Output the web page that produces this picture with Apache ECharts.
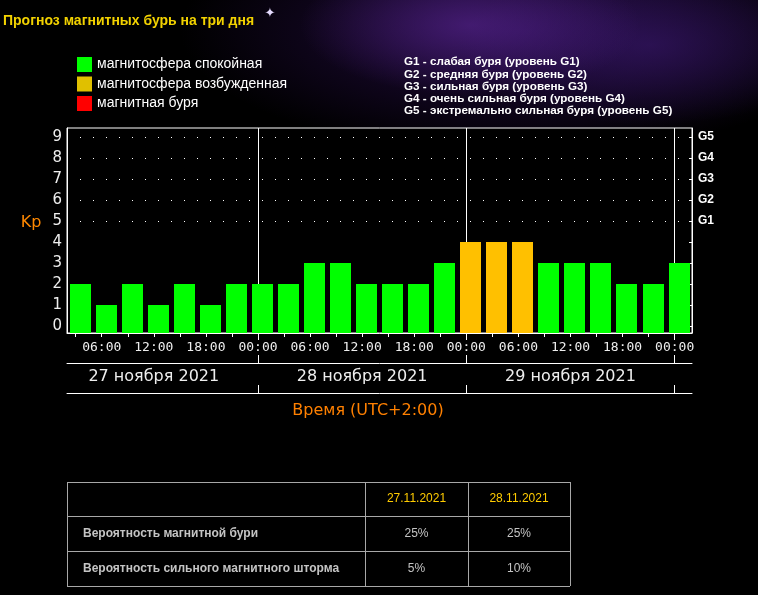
<!DOCTYPE html>
<html>
<head>
<meta charset="utf-8">
<script src="https://cdn.jsdelivr.net/npm/echarts@6/dist/echarts.min.js"></script>
<style>
html, body { margin: 0; padding: 0; background: #000; }
#chart {
  width: 758px; height: 595px;
  background:
    radial-gradient(ellipse 170px 70px at 470px 25px, rgba(85, 35, 140, 0.65), rgba(0, 0, 0, 0)),
    radial-gradient(ellipse 190px 80px at 650px 45px, rgba(60, 25, 115, 0.55), rgba(0, 0, 0, 0)),
    radial-gradient(ellipse 340px 125px at 520px 30px, rgba(45, 15, 85, 0.8), rgba(0, 0, 0, 0)),
    #000;
}
</style>
</head>
<body>
<div id="chart"></div>
<script>
// Kp по 3-часовым интервалам, местное время (UTC+2), с 27.11 02:00
var kp = [2, 1, 2, 1, 2, 1, 2,  2, 2, 3, 3, 2, 2, 2, 3,  4, 4, 4, 3, 3, 3, 2, 2,  3];
var firstSlot = 2;      // часы от 27.11 00:00
var slotHours = 3;
var dayLabels = ['27 ноября 2021', '28 ноября 2021', '29 ноября 2021'];
var kpTicks = [0, 1, 2, 3, 4, 5, 6, 7, 8, 9];
var gTicks = [5, 6, 7, 8, 9];

var levelNames = ['магнитосфера спокойная', 'магнитосфера возбужденная', 'магнитная буря'];
var levelColors = ['#00ff00', '#ffc000', '#ff0000'];
var legendColors = ['#00ff00', '#e0c000', '#ff0000'];

var gNotes = [
  'G1 - слабая буря (уровень G1)',
  'G2 - средняя буря (уровень G2)',
  'G3 - сильная буря (уровень G3)',
  'G4 - очень сильная буря (уровень G4)',
  'G5 - экстремально сильная буря (уровень G5)'
];

var tableDates = ['27.11.2021', '28.11.2021'];
var tableRows = ['Вероятность магнитной бури', 'Вероятность сильного магнитного шторма'];
var stormProb = ['25%', '25%'];
var strongStormProb = ['5%', '10%'];

// ---- layout ----
var Y_MIN = -1 / 3, Y_MAX = 9.43;
var X_MIN = firstSlot, X_MAX = firstSlot + kp.length * slotHours;
var gridBox = { left: 67, right: 66, top: 128, bottom: 262 };

var tickHours = [], labelHours = [], dayHours = [], noonHours = [];
for (var h = 3; h <= X_MAX; h += 3) tickHours.push(h);
for (var h = 6; h <= X_MAX; h += 6) labelHours.push(h);
for (var h = 24; h <= X_MAX; h += 24) dayHours.push(h);
for (var d = 0; d < dayLabels.length; d++) noonHours.push(12 + 24 * d);

function levelOf(v) { return v >= 5 ? 2 : (v >= 4 ? 1 : 0); }

function renderBar(params, api) {
  var t = api.value(0), v = api.value(1);
  var top = api.coord([t, v]);
  var base = api.coord([t, Y_MIN]);
  var w = api.size([slotHours, 0])[0] * 0.8;
  return {
    type: 'rect',
    shape: { x: Math.round(top[0] - w / 2), y: top[1], width: Math.round(w), height: base[1] - top[1] },
    style: { fill: api.visual('color') }
  };
}

var series = levelNames.map(function (name, lvl) {
  var data = [];
  kp.forEach(function (v, i) {
    if (levelOf(v) === lvl) data.push([firstSlot + slotHours * i + slotHours / 2, v]);
  });
  return {
    name: name,
    type: 'custom',
    renderItem: renderBar,
    data: data,
    encode: { x: 0, y: 1 },
    itemStyle: { color: levelColors[lvl] },
    animation: false
  };
});

// вертикальные линии суток и пунктир 5..9
series[0].markLine = {
  z: 1,
  silent: true,
  symbol: ['none', 'none'],
  label: { show: false },
  animation: false,
  data: dayHours.map(function (h) {
    return { xAxis: h, lineStyle: { color: '#fff', width: 1, type: 'solid' } };
  }).concat(gTicks.map(function (k) {
    return { yAxis: k, lineStyle: { color: '#fff', width: 1, type: [1, 12] } };
  }))
};

var white = '#ffffff';
var hourFmt = function (v) { var h = v % 24; return (h < 10 ? '0' : '') + h + ':00'; };

// ---- table ----
var colX = [67, 365, 468, 570];
var rowY = [482, 516, 551, 586];
var tableGraphic = [];
rowY.forEach(function (y) {
  tableGraphic.push({ type: 'line', shape: { x1: colX[0], y1: y + 0.5, x2: colX[3], y2: y + 0.5 }, style: { stroke: '#a8a8a8', lineWidth: 1 } });
});
colX.forEach(function (x) {
  tableGraphic.push({ type: 'line', shape: { x1: x + 0.5, y1: rowY[0], x2: x + 0.5, y2: rowY[3] }, style: { stroke: '#a8a8a8', lineWidth: 1 } });
});
tableDates.forEach(function (d, j) {
  tableGraphic.push({ type: 'text', x: (colX[j + 1] + colX[j + 2]) / 2, y: (rowY[0] + rowY[1]) / 2,
    style: { text: d, fill: '#ffcc00', font: '12px Arial', align: 'center', verticalAlign: 'middle' } });
});
var tableVals = [stormProb, strongStormProb];
tableRows.forEach(function (r, i) {
  var cy = (rowY[i + 1] + rowY[i + 2]) / 2;
  tableGraphic.push({ type: 'text', x: 83, y: cy,
    style: { text: r, fill: '#c4c4c4', font: 'bold 12px Arial', verticalAlign: 'middle' } });
  tableVals[i].forEach(function (v, j) {
    tableGraphic.push({ type: 'text', x: (colX[j + 1] + colX[j + 2]) / 2, y: cy,
      style: { text: v, fill: '#c4c4c4', font: '12px Arial', align: 'center', verticalAlign: 'middle' } });
  });
});

var chart = echarts.init(document.getElementById('chart'));
chart.setOption({
  backgroundColor: 'transparent',
  animation: false,
  grid: {
    left: gridBox.left, right: gridBox.right, top: gridBox.top, bottom: gridBox.bottom,
    show: true, borderColor: white, borderWidth: 1, backgroundColor: '#000'
  },
  legend: {
    orient: 'vertical', left: 72, top: 52,
    itemWidth: 15, itemHeight: 15, itemGap: 4.5, icon: 'rect',
    selectedMode: false,
    textStyle: { color: white, fontSize: 14, fontFamily: 'Arial' },
    data: levelNames.map(function (n, i) { return { name: n, itemStyle: { color: legendColors[i] } }; })
  },
  xAxis: [
    {
      type: 'value', min: X_MIN, max: X_MAX, position: 'bottom',
      axisLine: { onZero: false, lineStyle: { color: white } },
      axisTick: { customValues: tickHours, length: 4, lineStyle: { color: white } },
      axisLabel: { customValues: labelHours, formatter: hourFmt, color: '#eeeeee', fontSize: 13, fontFamily: 'DejaVu Sans Mono', margin: 8 },
      splitLine: { show: false }
    },
    {
      type: 'value', min: X_MIN, max: X_MAX, position: 'bottom',
      axisLine: { show: false, onZero: false },
      axisTick: { customValues: dayHours, length: 7, lineStyle: { color: white } },
      axisLabel: { show: false },
      splitLine: { show: false }
    },
    {
      type: 'value', min: X_MIN, max: X_MAX, position: 'bottom', offset: 30,
      axisLine: { onZero: false, lineStyle: { color: white } },
      axisTick: { customValues: dayHours, inside: true, length: 8, lineStyle: { color: white } },
      axisLabel: {
        customValues: noonHours,
        formatter: function (v) { return dayLabels[Math.round((v - 12) / 24)]; },
        color: '#eeeeee', fontSize: 16, fontFamily: 'DejaVu Sans', margin: 6
      },
      splitLine: { show: false }
    },
    {
      type: 'value', min: X_MIN, max: X_MAX, position: 'bottom', offset: 60,
      axisLine: { onZero: false, lineStyle: { color: white } },
      axisTick: { customValues: dayHours, inside: true, length: 8, lineStyle: { color: white } },
      axisLabel: { show: false },
      splitLine: { show: false }
    }
  ],
  yAxis: [
    {
      type: 'value', min: Y_MIN, max: Y_MAX, position: 'left',
      axisLine: { show: true, onZero: false, lineStyle: { color: white } },
      axisTick: { show: false },
      axisLabel: { customValues: kpTicks, color: '#eeeeee', fontSize: 15, fontFamily: 'DejaVu Sans', margin: 5 },
      splitLine: { show: false }
    },
    {
      type: 'value', min: Y_MIN, max: Y_MAX, position: 'right',
      axisLine: { show: true, onZero: false, lineStyle: { color: white } },
      axisTick: { customValues: kpTicks, inside: true, length: 3, lineStyle: { color: white } },
      axisLabel: {
        customValues: gTicks,
        formatter: function (v) { return 'G' + (v - 4); },
        color: white, fontSize: 12, fontWeight: 'bold', fontFamily: 'Arial', margin: 6
      },
      splitLine: { show: false }
    }
  ],
  series: series,
  graphic: [
    { type: 'text', x: 3, y: 21, style: { text: 'Прогноз магнитных бурь на три дня', fill: '#f2d200', font: 'bold 14px Arial', verticalAlign: 'middle' } },
    { type: 'text', x: 270, y: 14, style: { text: '✦', fill: '#e6dcff', font: '13px "DejaVu Sans"', align: 'center', verticalAlign: 'middle' } },
    { type: 'text', x: 404, y: 56, style: { text: gNotes.join('\n'), fill: white, font: 'bold 11.7px Arial', lineHeight: 12.2 } },
    { type: 'text', x: 31, y: 223, style: { text: 'Kp', fill: '#ff8800', font: '16px "DejaVu Sans"', align: 'center', verticalAlign: 'middle' } },
    { type: 'text', x: 368, y: 411, style: { text: 'Время (UTC+2:00)', fill: '#ff8000', font: '16px "DejaVu Sans"', align: 'center', verticalAlign: 'middle' } }
  ].concat(tableGraphic)
});
</script>
</body>
</html>
